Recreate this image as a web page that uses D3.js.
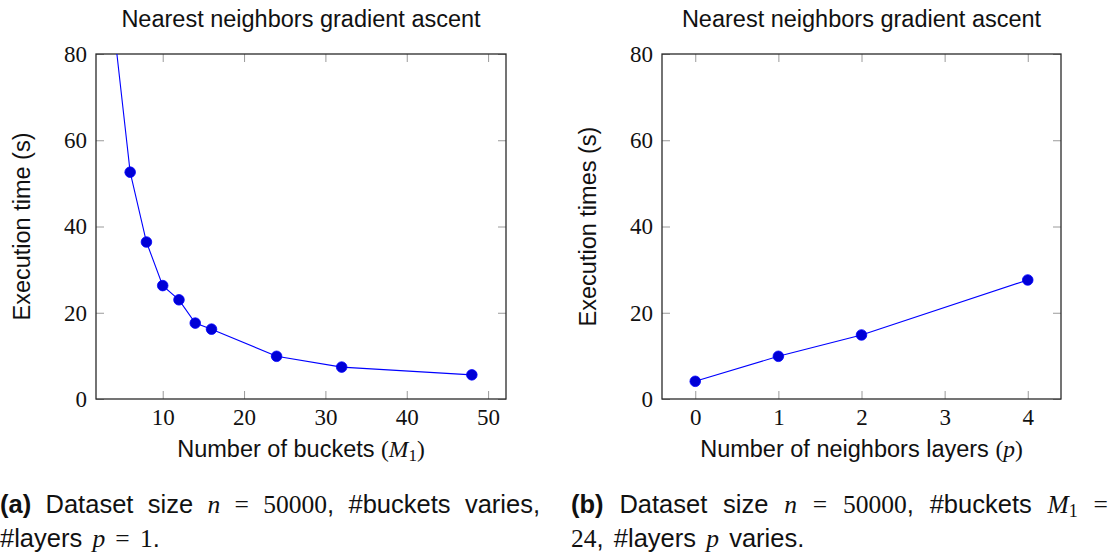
<!DOCTYPE html>
<html>
<head>
<meta charset="utf-8">
<script src="https://cdn.jsdelivr.net/npm/d3@7"></script>
<style>
  html, body { margin: 0; padding: 0; background: #fff; }
  svg { display: block; }
  .serif { font-family: "Liberation Serif", "Times New Roman", serif; }
  .sans { font-family: "Liberation Sans", Arial, Helvetica, sans-serif; }
</style>
</head>
<body>
<svg id="chart" width="1113" height="556"></svg>
<script>
// ---------------- data ----------------
const bucketsX = [4, 6, 8, 10, 12, 14, 16, 24, 32, 48];
const bucketsTime = [86.2, 52.6, 36.4, 26.3, 23.0, 17.6, 16.2, 9.9, 7.4, 5.6];
const layersX = [0, 1, 2, 4];
const layersTime = [4.1, 9.9, 14.85, 27.6];

const yTicks = [0, 20, 40, 60, 80];
const bucketsTicks = [10, 20, 30, 40, 50];
const layersTicks = [0, 1, 2, 3, 4];

const titleText = "Nearest neighbors gradient ascent";
const yLabelA = "Execution time (s)";
const yLabelB = "Execution times (s)";

// ---------------- drawing ----------------
const svg = d3.select("#chart");
svg.append("rect").attr("width", 1113).attr("height", 556).attr("fill", "#fff");
const fmt = d3.format("d");

function panel(cfg) {
  const g = svg.append("g");
  const x = d3.scaleLinear().domain(cfg.xDomain).range([cfg.left, cfg.right]);
  const y = d3.scaleLinear().domain([0, 80]).range([cfg.bottom, cfg.top]);

  const clipId = "clip" + cfg.id;
  svg.append("clipPath").attr("id", clipId).append("rect")
    .attr("x", cfg.left).attr("y", cfg.top)
    .attr("width", cfg.right - cfg.left).attr("height", cfg.bottom - cfg.top);

  const tl = 8;
  const axB = g.append("g").attr("transform", `translate(0,${cfg.bottom})`)
    .call(d3.axisBottom(x).tickValues(cfg.xTicks).tickFormat(fmt).tickSizeInner(-tl).tickSizeOuter(0).tickPadding(10));
  const axT = g.append("g").attr("transform", `translate(0,${cfg.top})`)
    .call(d3.axisTop(x).tickValues(cfg.xTicks).tickSizeInner(-tl).tickSizeOuter(0).tickFormat(""));
  const axL = g.append("g").attr("transform", `translate(${cfg.left},0)`)
    .call(d3.axisLeft(y).tickValues(yTicks).tickFormat(fmt).tickSizeInner(-tl).tickSizeOuter(0).tickPadding(9));
  const axR = g.append("g").attr("transform", `translate(${cfg.right},0)`)
    .call(d3.axisRight(y).tickValues(yTicks).tickSizeInner(-tl).tickSizeOuter(0).tickFormat(""));
  [axB, axT, axL, axR].forEach(a => {
    a.attr("font-family", null).attr("font-size", null);
    a.select(".domain").remove();
    a.selectAll(".tick line").attr("stroke", "#9a9a9a").attr("stroke-width", 1);
    a.selectAll(".tick text").attr("class", "serif").style("font-size", "23px").attr("fill", "#111");
  });

  // frame
  g.append("rect")
    .attr("x", cfg.left).attr("y", cfg.top)
    .attr("width", cfg.right - cfg.left).attr("height", cfg.bottom - cfg.top)
    .attr("fill", "none").attr("stroke", "#2a2a2a").attr("stroke-width", 1.3);

  const pts = cfg.xs.map((v, i) => [v, cfg.ys[i]]);
  const line = d3.line().x(d => x(d[0])).y(d => y(d[1]));
  const plot = g.append("g").attr("clip-path", `url(#${clipId})`);
  plot.append("path").datum(pts).attr("d", line)
    .attr("fill", "none").attr("stroke", "#0000ff").attr("stroke-width", 1.1);
  plot.selectAll("circle").data(pts).join("circle")
    .attr("cx", d => x(d[0])).attr("cy", d => y(d[1])).attr("r", 5.3)
    .attr("fill", "#0000d6").attr("stroke", "#0000ff").attr("stroke-width", 0.8);

  // title
  g.append("text").attr("class", "sans").attr("x", (cfg.left + cfg.right) / 2).attr("y", 27)
    .attr("text-anchor", "middle").style("font-size", "23.5px")
    .attr("fill", "#111").text(titleText);

  // y label
  g.append("text").attr("class", "sans")
    .attr("transform", `translate(${cfg.left - 66},${(cfg.top + cfg.bottom) / 2}) rotate(-90)`)
    .attr("text-anchor", "middle").style("font-size", "23.5px")
    .attr("fill", "#111").text(cfg.yLabel);

  // x label
  const xl = g.append("text").attr("x", (cfg.left + cfg.right) / 2).attr("y", 457)
    .attr("text-anchor", "middle").style("font-size", "23.5px").attr("fill", "#111");
  xl.append("tspan").attr("class", "sans").text(cfg.xLabelText + " ");
  xl.append("tspan").attr("class", "serif").text("(");
  xl.append("tspan").attr("class", "serif").style("font-style", "italic").text(cfg.xLabelVar);
  if (cfg.xLabelSub) {
    xl.append("tspan").attr("class", "serif").style("font-size", "17px").attr("dy", 4).text(cfg.xLabelSub);
    xl.append("tspan").attr("class", "serif").attr("dy", -4).text(")");
  } else {
    xl.append("tspan").attr("class", "serif").text(")");
  }
}

panel({ id: "A", left: 96, right: 506, top: 54, bottom: 399, xDomain: [1.8, 52.2],
  xTicks: bucketsTicks, xs: bucketsX, ys: bucketsTime, yLabel: yLabelA,
  xLabelText: "Number of buckets", xLabelVar: "M", xLabelSub: "1" });
panel({ id: "B", left: 662, right: 1061, top: 54, bottom: 399, xDomain: [-0.4, 4.4],
  xTicks: layersTicks, xs: layersX, ys: layersTime, yLabel: yLabelB,
  xLabelText: "Number of neighbors layers", xLabelVar: "p", xLabelSub: null });

// ---------------- captions ----------------
const S = (t) => ({ t, c: "sans" });
const B = (t) => ({ t, c: "sans", b: true });
const R = (t) => ({ t, c: "serif" });
const I = (t) => ({ t, c: "serif", i: true });
const SUB = (t) => ({ t, c: "serif", sub: true });

const capA1 = [[B("(a)")], [S("Dataset")], [S("size")], [I("n")], [R("=")], [R("50000"), S(",")], [S("#buckets")], [S("varies,")]];
const capA2 = [[S("#layers")], [I("p")], [R("=")], [R("1"), S(".")]];
const capB1 = [[B("(b)")], [S("Dataset")], [S("size")], [I("n")], [R("=")], [R("50000"), S(",")], [S("#buckets")], [I("M"), SUB("1")], [R("=")]];
const capB2 = [[R("24"), S(",")], [S("#layers")], [I("p")], [S("varies.")]];

const CFS = 25.5;
function capLine(words, x0, x1, y, justify) {
  const nodes = words.map(w => {
    const t = svg.append("text").attr("y", y).style("font-size", CFS + "px").attr("fill", "#111");
    w.forEach(s => {
      const ts = t.append("tspan").attr("class", s.c).text(s.t);
      if (s.i) ts.style("font-style", "italic");
      if (s.b) ts.style("font-weight", "bold");
      if (s.sub) ts.style("font-size", "18px").attr("dy", 4);
    });
    return t;
  });
  const widths = nodes.map(n => n.node().getComputedTextLength());
  const total = d3.sum(widths);
  const gap = justify ? (x1 - x0 - total) / (words.length - 1) : CFS * 0.4;
  let cx = x0;
  nodes.forEach((n, i) => { n.attr("x", cx); cx += widths[i] + gap; });
}
capLine(capA1, 0, 540, 513, true);
capLine(capA2, 0, 540, 547, false);
capLine(capB1, 571, 1108, 513, true);
capLine(capB2, 571, 1108, 547, false);
</script>
</body>
</html>
